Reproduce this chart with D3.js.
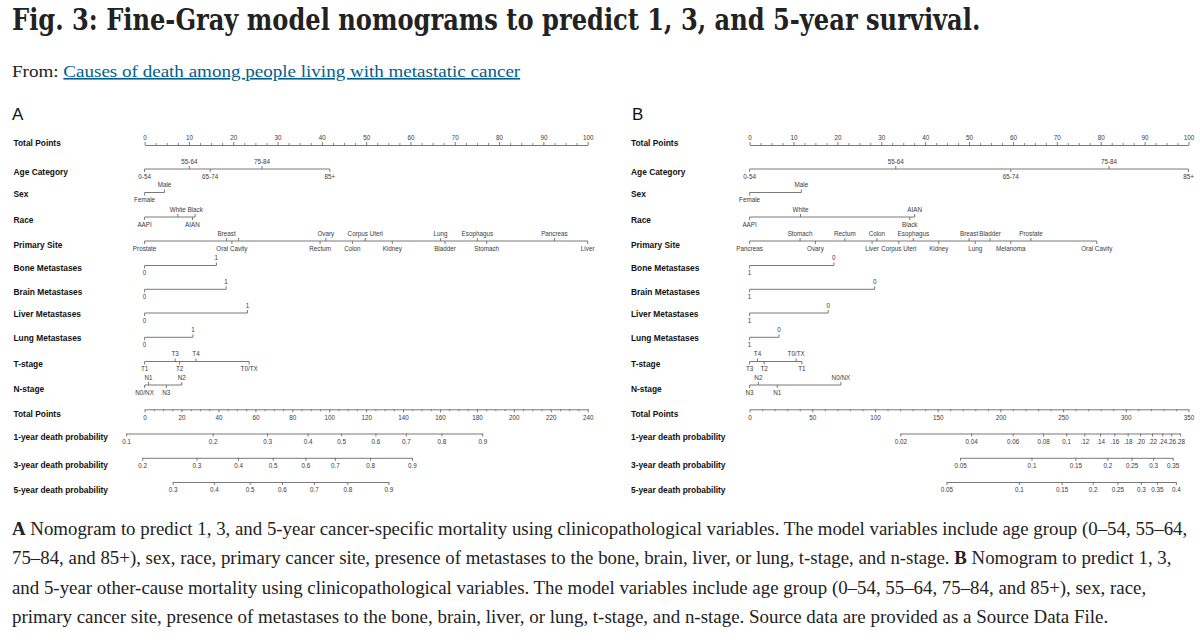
<!DOCTYPE html>
<html>
<head>
<meta charset="utf-8">
<script src="https://cdn.jsdelivr.net/npm/d3@7"></script>
<style>
  body { margin: 0; background: #fff; }
  svg { display: block; }
</style>
</head>
<body>
<svg id="chart" width="1200" height="642"></svg>
<script>
// ================= DATA =================
const titleText = "Fig. 3: Fine-Gray model nomograms to predict 1, 3, and 5-year survival.";
const fromLabel = "From: ";
const fromLink = "Causes of death among people living with metastatic cancer";
const captionLines = [
  [["A", true], [" Nomogram to predict 1, 3, and 5-year cancer-specific mortality using clinicopathological variables. The model variables include age group (0\u201354, 55\u201364,", false]],
  [["75\u201384, and 85+), sex, race, primary cancer site, presence of metastases to the bone, brain, liver, or lung, t-stage, and n-stage. ", false], ["B", true], [" Nomogram to predict 1, 3,", false]],
  [["and 5-year other-cause mortality using clinicopathological variables. The model variables include age group (0\u201354, 55\u201364, 75\u201384, and 85+), sex, race,", false]],
  [["primary cancer site, presence of metastases to the bone, brain, liver, or lung, t-stage, and n-stage. Source data are provided as a Source Data File.", false]]
];

const rowNames = ["Total Points", "Age Category", "Sex", "Race", "Primary Site",
  "Bone Metastases", "Brain Metastases", "Liver Metastases", "Lung Metastases",
  "T-stage", "N-stage", "Total Points",
  "1-year death probability", "3-year death probability", "5-year death probability"];

const pointsTicks = [0, 10, 20, 30, 40, 50, 60, 70, 80, 90, 100];

const ageLevels = ["0-54", "55-64", "65-74", "75-84", "85+"];
const agePointsA = [0, 10.1, 14.8, 26.5, 41.8];
const agePointsB = [0, 33.3, 59.5, 81.9, 100];

const sexLevels = ["Female", "Male"];
const sexPointsA = [0, 4.5];
const sexPointsB = [0, 11.8];

const raceLevels = ["AAPI", "White", "Black", "AIAN"];
const racePointsA = [0, 7.5, 11.4, 10.8];
const racePointsB = [0, 11.6, 36.5, 37.6];

const siteLevels = ["Prostate", "Breast", "Oral Cavity", "Melanoma", "Rectum", "Ovary", "Colon",
  "Corpus Uteri", "Kidney", "Lung", "Bladder", "Esophagus", "Stomach", "Pancreas", "Liver"];
const sitePointsA = [0, 18.5, 19.7, 21.2, 39.6, 40.9, 46.9, 49.8, 55.9, 66.8, 67.8, 75.1, 77.2, 92.5, 100];
const sitePointsB = [64.1, 50, 79.1, 59.5, 21.7, 15, 29, 34, 43.1, 51.4, 54.8, 37.3, 11.5, 0, 27.9];

const metLevels = ["0", "1"];
const bonePointsA = [0, 16.2];
const brainPointsA = [0, 18.4];
const liverPointsA = [0, 23.2];
const lungPointsA = [0, 10.9];
const bonePointsB = [19.2, 0];
const brainPointsB = [28.5, 0];
const liverPointsB = [17.9, 0];
const lungPointsB = [6.7, 0];

const tLevels = ["T0/TX", "T1", "T2", "T3", "T4"];
const tPointsA = [23.6, 0, 7.9, 6.9, 11.6];
const tPointsB = [10.6, 11.9, 3.3, 0, 1.8];

const nLevels = ["N0/NX", "N1", "N2", "N3"];
const nPointsA = [0, 0.9, 8.4, 4.9];
const nPointsB = [20.8, 6.3, 2.0, 0];

const totalTicksA = [0, 20, 40, 60, 80, 100, 120, 140, 160, 180, 200, 220, 240];
const totalTicksB = [0, 50, 100, 150, 200, 250, 300, 350];

const prob1LabelsA = ["0.1", "0.2", "0.3", "0.4", "0.5", "0.6", "0.7", "0.8", "0.9"];
const prob1TotalA = [-10, 36.9, 66.3, 88.3, 106.5, 125, 141.5, 160.8, 182.9];
const prob3LabelsA = ["0.2", "0.3", "0.4", "0.5", "0.6", "0.7", "0.8", "0.9"];
const prob3TotalA = [-1.3, 28.1, 50.6, 69.4, 87.1, 103.1, 122.1, 144.8];
const prob5LabelsA = ["0.3", "0.4", "0.5", "0.6", "0.7", "0.8", "0.9"];
const prob5TotalA = [15.2, 37.5, 56.9, 74.4, 91.7, 109.8, 132.1];

const prob1LabelsB = ["0.02", "0.04", "0.06", "0.08", "0.1", ".12", ".14", ".16", ".18", ".20", ".22", ".24", ".26", ".28"];
const prob1TotalB = [120.2, 176.7, 209.8, 234, 252.5, 266.9, 279.5, 290.8, 301.5, 311.4, 320.9, 329.1, 336.2, 343.3];
const prob3LabelsB = ["0.05", "0.1", "0.15", "0.2", "0.25", "0.3", "0.35"];
const prob3TotalB = [167.8, 224.8, 259.8, 285.3, 304.6, 321.8, 337.4];
const prob5LabelsB = ["0.05", "0.1", "0.15", "0.2", "0.25", "0.3", "0.35", "0.4"];
const prob5TotalB = [157, 214.7, 248.8, 273.6, 293.3, 312, 324.8, 339.9];

// ================= LAYOUT / STYLE =================
const FONT_CHART = "'Liberation Sans', Arial, Helvetica, sans-serif";
const FONT_TEXT = "'Liberation Serif', 'Times New Roman', serif";
const FONT_TITLE = "'DejaVu Serif', 'Liberation Serif', serif";
const LINE_COLOR = "#6a6a6a";
const TICK_TEXT = "#3a3a3a";
const TICK_FS = 6.3;
const lineY = [145, 169, 192.5, 217, 241, 265.5, 289.3, 313, 337.3, 361.5, 385, 409.3, 433.5, 457.8, 482];
const labelCY = [143, 172, 194, 220, 245, 268, 292, 314, 338, 364, 389, 414, 436.7, 465, 489.7];

const svg = d3.select("#chart");

function fitText(sel, x, y, targetW) {
  const w = sel.node().getBBox().width;
  const k = targetW / w;
  sel.attr("transform", `translate(${x},${y}) scale(${k},1)`);
}

// ---- Title ----
const title = svg.append("text")
  .attr("font-family", FONT_TITLE).attr("font-weight", 700).attr("font-size", 30)
  .attr("fill", "#222").text(titleText);
fitText(title, 12, 30, 969);

// ---- From line ----
const from = svg.append("text")
  .attr("font-family", FONT_TEXT).attr("font-size", 16.5).attr("fill", "#222");
from.append("tspan").text(fromLabel);
from.append("tspan").attr("fill", "#025e8d").attr("text-decoration", "underline").text(fromLink);
fitText(from, 12, 77, 509);

// ---- Caption ----
const capBase = [535, 564.3, 593.6, 623];
const capEnd = [1188, 1172, 1147, 1109];
captionLines.forEach((parts, i) => {
  const t = svg.append("text").attr("font-family", FONT_TEXT).attr("font-size", 18).attr("fill", "#222");
  parts.forEach(([s, b]) => {
    t.append("tspan").attr("font-weight", b ? 700 : 400).text(s);
  });
  fitText(t, 12, capBase[i], capEnd[i] - 12);
});

// ================= NOMOGRAM PANELS =================
function styleAxis(gAxis, textBaselineOffset) {
  gAxis.attr("font-family", FONT_CHART).attr("font-size", TICK_FS);
  gAxis.select(".domain").attr("stroke", LINE_COLOR).attr("stroke-width", 0.9);
  gAxis.selectAll(".tick line").attr("stroke", LINE_COLOR).attr("stroke-width", 0.9);
  gAxis.selectAll(".tick text").attr("fill", TICK_TEXT).attr("dy", null).attr("y", textBaselineOffset);
}

function minorTicks(g, scale, values, y, dir) {
  const a = (dir < 0 ? d3.axisTop(scale) : d3.axisBottom(scale))
    .tickValues(values).tickSize(2).tickSizeOuter(0).tickFormat("");
  const m = g.append("g").attr("transform", `translate(0,${y})`).call(a);
  m.select(".domain").remove();
  m.selectAll(".tick line").attr("stroke", LINE_COLOR).attr("stroke-width", 0.8);
}

function drawVariable(g, xP, y, levels, pts) {
  const items = levels.map((l, i) => ({ l, p: pts[i] })).sort((a, b) => a.p - b.p);
  const ext = d3.extent(items, d => d.p);
  g.append("line")
    .attr("x1", xP(ext[0])).attr("x2", xP(ext[1]))
    .attr("y1", y).attr("y2", y)
    .attr("stroke", LINE_COLOR).attr("stroke-width", 0.9);
  const last = { above: null, below: null };
  items.forEach((d, j) => {
    const side = j % 2 === 0 ? "below" : "above";
    const dir = side === "above" ? -1 : 1;
    const x = xP(d.p);
    g.append("line").attr("x1", x).attr("x2", x).attr("y1", y).attr("y2", y + dir * 3)
      .attr("stroke", LINE_COLOR).attr("stroke-width", 0.9);
    const t = g.append("text")
      .attr("x", x).attr("y", side === "above" ? y - 5.4 : y + 9.6)
      .attr("text-anchor", "middle")
      .attr("font-family", FONT_CHART).attr("font-size", TICK_FS).attr("fill", TICK_TEXT)
      .text(d.l);
    const w = t.node().getComputedTextLength();
    const prev = last[side];
    // like the R nomogram, a label that would collide with its neighbour is not printed
    if (prev && ((w + prev.w) / 2 - (x - prev.x)) > 3) {
      t.remove();
    } else {
      last[side] = { x, w };
    }
  });
}

function drawProb(g, xT, y, labels, totals) {
  const ext = d3.extent(totals);
  const xs = d3.scaleLinear().domain(ext).range([xT(ext[0]), xT(ext[1])]);
  const ax = g.append("g").attr("transform", `translate(0,${y})`)
    .call(d3.axisBottom(xs).tickValues(totals).tickSize(3).tickSizeOuter(0)
      .tickFormat((d, i) => labels[i]));
  styleAxis(ax, 10.3);
}

function drawPanel(cfg) {
  const g = svg.append("g");
  const xP = d3.scaleLinear().domain([0, 100]).range([cfg.x0, cfg.x1]);
  const xT = d3.scaleLinear().domain([0, cfg.totalTicks[cfg.totalTicks.length - 1]]).range([cfg.x0, cfg.x1]);

  // panel letter
  g.append("text").attr("x", cfg.letterX).attr("y", 119.5)
    .attr("font-family", FONT_CHART).attr("font-size", 17).attr("fill", "#111").text(cfg.letter);

  // row names
  rowNames.forEach((n, i) => {
    g.append("text").attr("x", cfg.labelX).attr("y", labelCY[i] + 3)
      .attr("font-family", FONT_CHART).attr("font-weight", 700).attr("font-size", 8.4)
      .attr("fill", "#111").text(n);
  });

  // top points axis
  const top = g.append("g").attr("transform", `translate(0,${lineY[0]})`)
    .call(d3.axisTop(xP).tickValues(pointsTicks).tickSize(3).tickSizeOuter(0));
  styleAxis(top, -5);
  minorTicks(g, xP, d3.range(0, 100.001, 2.5).filter(v => v % 10 !== 0), lineY[0], -1);

  // variables
  cfg.vars.forEach((v, k) => drawVariable(g, xP, lineY[k + 1], v[0], v[1]));

  // bottom total points axis
  const bot = g.append("g").attr("transform", `translate(0,${lineY[11]})`)
    .call(d3.axisBottom(xT).tickValues(cfg.totalTicks).tickSize(3).tickSizeOuter(0));
  styleAxis(bot, 10.3);
  minorTicks(g, xT, d3.range(0, xT.domain()[1] + 0.001, cfg.totalMinor)
    .filter(v => !cfg.totalTicks.includes(v)), lineY[11], 1);

  // probability axes
  cfg.probs.forEach((p, k) => drawProb(g, xT, lineY[12 + k], p[0], p[1]));
}

drawPanel({
  letter: "A", letterX: 12, labelX: 13.5, x0: 144.6, x1: 587.7,
  totalTicks: totalTicksA, totalMinor: 5,
  vars: [
    [ageLevels, agePointsA], [sexLevels, sexPointsA], [raceLevels, racePointsA],
    [siteLevels, sitePointsA], [metLevels, bonePointsA], [metLevels, brainPointsA],
    [metLevels, liverPointsA], [metLevels, lungPointsA], [tLevels, tPointsA], [nLevels, nPointsA]
  ],
  probs: [[prob1LabelsA, prob1TotalA], [prob3LabelsA, prob3TotalA], [prob5LabelsA, prob5TotalA]]
});

drawPanel({
  letter: "B", letterX: 632, labelX: 631, x0: 749.6, x1: 1188.5,
  totalTicks: totalTicksB, totalMinor: 10,
  vars: [
    [ageLevels, agePointsB], [sexLevels, sexPointsB], [raceLevels, racePointsB],
    [siteLevels, sitePointsB], [metLevels, bonePointsB], [metLevels, brainPointsB],
    [metLevels, liverPointsB], [metLevels, lungPointsB], [tLevels, tPointsB], [nLevels, nPointsB]
  ],
  probs: [[prob1LabelsB, prob1TotalB], [prob3LabelsB, prob3TotalB], [prob5LabelsB, prob5TotalB]]
});
</script>
</body>
</html>
